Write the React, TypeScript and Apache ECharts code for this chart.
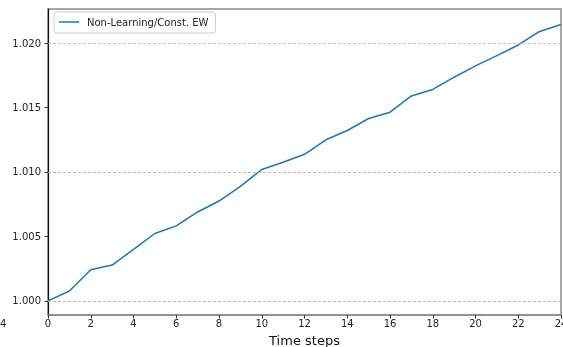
import React, { useEffect, useRef } from "react";
import * as echarts from "echarts";

const timeSteps = [0, 1, 2, 3, 4, 5, 6, 7, 8, 9, 10, 11, 12, 13, 14, 15, 16, 17, 18, 19, 20, 21, 22, 23, 24];
const constEW = [
  1.0, 1.00077, 1.00242, 1.00278, 1.004, 1.00523, 1.00582, 1.0069, 1.00775, 1.00889,
  1.01019, 1.01075, 1.01137, 1.0125, 1.01322, 1.01415, 1.01464, 1.0159, 1.0164, 1.01735,
  1.01823, 1.01902, 1.01985, 1.0209, 1.02144,
];
const yTicks = [1.0, 1.005, 1.01, 1.015, 1.02];
const xTicks = [0, 2, 4, 6, 8, 10, 12, 14, 16, 18, 20, 22, 24];
const seriesName = "Non-Learning/Const. EW";

const FONT = "DejaVu Sans";

export default function App() {
  const ref = useRef<HTMLDivElement>(null);
  useEffect(() => {
    if (!ref.current) return;
    const chart = echarts.init(ref.current, undefined, { renderer: "svg" });
    chart.setOption({
      animation: false,
      textStyle: { fontFamily: FONT },
      grid: {
        left: 48,
        right: 2,
        top: 9,
        bottom: 32,
        outerBoundsMode: "none",
        containLabel: false,
        show: true,
        borderColor: "#8a8a8a",
        borderWidth: 1.5,
        backgroundColor: "#fff",
      },
      legend: {
        left: 54,
        top: 12,
        data: [{ name: seriesName, icon: "rect" }],
        itemWidth: 20,
        itemHeight: 1.5,
        itemGap: 8,
        padding: [5, 7, 6, 5],
        borderColor: "#cccccc",
        borderWidth: 1,
        borderRadius: 3,
        backgroundColor: "#fff",
        textStyle: { fontFamily: FONT, fontSize: 10, color: "#222", padding: [0, 0, 0, 3] },
      },
      xAxis: {
        type: "value",
        min: 0,
        max: 24,
        interval: 2,
        name: "Time steps",
        nameLocation: "middle",
        nameGap: 19,
        nameTextStyle: { fontFamily: FONT, fontSize: 13, color: "#111" },
        axisLine: { show: true, lineStyle: { color: "#8a8a8a", width: 1.5 } },
        axisTick: { show: true, length: 3.5, lineStyle: { color: "#333" }, customValues: xTicks },
        axisLabel: { fontFamily: FONT, fontSize: 10, color: "#222", margin: 3, customValues: xTicks },
        splitLine: { show: false },
      },
      yAxis: {
        type: "value",
        min: 0.99891,
        max: 1.02264,
        axisLine: { show: true, onZero: false, lineStyle: { color: "#111", width: 1.2 } },
        axisTick: { show: true, length: 3.5, lineStyle: { color: "#333" }, customValues: yTicks },
        axisLabel: {
          fontFamily: FONT,
          fontSize: 10,
          color: "#222",
          margin: 7,
          customValues: yTicks,
          formatter: (v: number) => v.toFixed(3),
        },
        splitLine: { show: false },
      },
      series: [
        {
          type: "line",
          name: "grid",
          data: [],
          z: 1,
          silent: true,
          markLine: {
            silent: true,
            symbol: "none",
            label: { show: false },
            lineStyle: { type: [3, 2], color: "#b8b8b8", width: 0.8 },
            data: yTicks.map((v) => ({ yAxis: v })),
          },
        },
        {
          type: "line",
          name: seriesName,
          data: timeSteps.map((t, i) => [t, constEW[i]]),
          showSymbol: false,
          symbol: "none",
          z: 3,
          lineStyle: { color: "#1f77b4", width: 1.5 },
          itemStyle: { color: "#1f77b4" },
        },
      ],
      graphic: [
        {
          type: "text",
          left: 0,
          top: 318,
          style: { text: "4", font: `10px '${FONT}'`, fill: "#222" },
        },
      ],
    });
    return () => chart.dispose();
  }, []);
  return (
    <div
      ref={ref}
      style={{ position: "fixed", left: 0, top: 0, width: 563, height: 347 }}
    />
  );
}
